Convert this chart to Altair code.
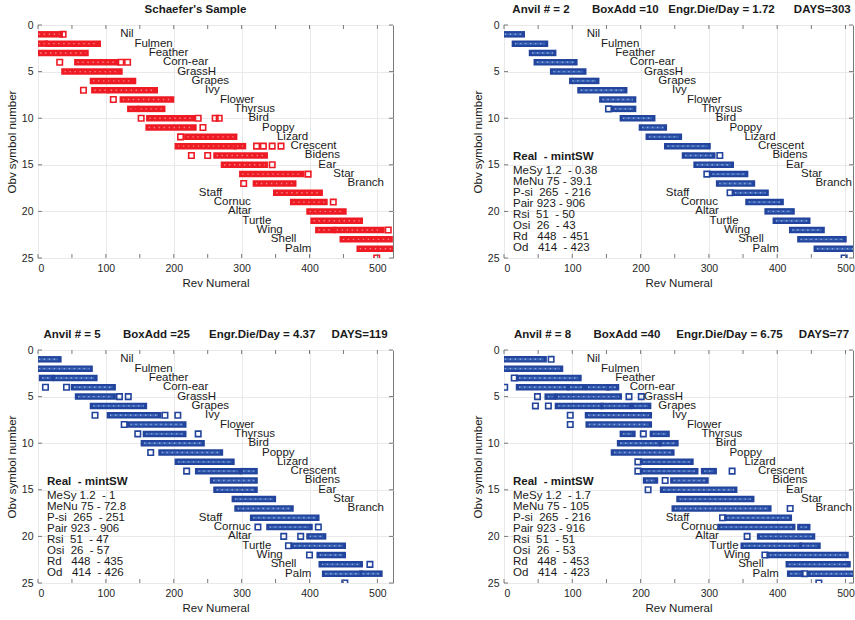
import altair as alt
import pandas as pd

FONT = "Liberation Sans"

SYMBOLS = ["Nil", "Fulmen", "Feather", "Corn-ear", "GrassH", "Grapes", "Ivy", "Flower",
           "Thyrsus", "Bird", "Poppy", "Lizard", "Crescent", "Bidens", "Ear", "Star",
           "Branch", "Staff", "Cornuc", "Altar", "Turtle", "Wing", "Shell", "Palm"]
SYMBOL_X = [121, 142, 163, 184, 205, 226, 246, 268, 289, 310, 330, 352, 372, 393, 413,
            435, 456, 237, 259, 280, 301, 322, 343, 364]
SYMBOL_ROW = list(range(1, 25))

XTICKS = [0, 50, 100, 150, 200, 250, 300, 350, 400, 450, 500]
YTICKS = [0, 5, 10, 15, 20, 25]

# (row, first rev, last rev) -- single points have first == last
SCHAEFER = [
    (1, 1, 32), (1, 37, 37),
    (2, 1, 10), (2, 15, 88),
    (3, 3, 70),
    (4, 32, 32), (4, 58, 115), (4, 122, 122), (4, 132, 132),
    (5, 39, 120),
    (6, 81, 140),
    (7, 67, 67), (7, 83, 100), (7, 107, 172),
    (8, 111, 111), (8, 125, 196),
    (9, 136, 144), (9, 151, 183),
    (10, 152, 152), (10, 164, 227), (10, 236, 236), (10, 261, 261), (10, 267, 267),
    (11, 163, 229), (11, 243, 243),
    (12, 210, 210), (12, 220, 289),
    (13, 206, 288), (13, 293, 302), (13, 322, 322), (13, 332, 332), (13, 345, 345), (13, 358, 358),
    (14, 226, 226), (14, 250, 250), (14, 263, 334),
    (15, 274, 334), (15, 345, 345),
    (16, 301, 388), (16, 398, 398),
    (17, 303, 303), (17, 321, 376),
    (18, 351, 415),
    (19, 376, 422), (19, 435, 435),
    (20, 400, 450),
    (21, 406, 474),
    (22, 413, 434), (22, 440, 506), (22, 516, 516),
    (23, 449, 518),
    (24, 474, 523),
    (25, 499, 499),
]

ANVIL2 = [
    (1, 1, 26), (2, 16, 60), (3, 41, 72), (4, 48, 103), (5, 72, 116), (6, 100, 135),
    (7, 112, 176), (8, 144, 189), (9, 153, 153), (9, 162, 189), (10, 174, 217),
    (11, 202, 234), (12, 212, 256), (13, 239, 298), (14, 265, 305), (14, 316, 316),
    (15, 282, 332), (16, 297, 297), (16, 305, 353), (17, 315, 363), (18, 331, 331),
    (18, 338, 383), (19, 358, 405), (20, 386, 421), (21, 398, 444), (22, 422, 465),
    (23, 434, 497), (24, 458, 515), (25, 498, 498),
]

ANVIL5 = [
    (1, 1, 30), (2, 1, 76), (3, 6, 19), (3, 26, 83),
    (4, 11, 11), (4, 42, 42), (4, 53, 110),
    (5, 59, 110), (5, 120, 120), (5, 133, 133),
    (6, 81, 156),
    (7, 84, 84), (7, 106, 177), (7, 187, 187), (7, 206, 206),
    (8, 127, 127), (8, 136, 214),
    (9, 147, 147), (9, 159, 214), (9, 236, 236),
    (10, 156, 241),
    (11, 166, 166), (11, 182, 268),
    (12, 206, 285),
    (13, 219, 219), (13, 236, 295), (13, 302, 319),
    (14, 258, 319), (15, 263, 319), (16, 290, 346), (17, 294, 372), (18, 317, 410),
    (19, 324, 324), (19, 341, 400), (19, 413, 413),
    (20, 362, 362), (20, 387, 387), (20, 400, 420),
    (21, 369, 369), (21, 377, 449),
    (22, 400, 400), (22, 415, 449),
    (23, 418, 474), (23, 489, 489),
    (24, 423, 474), (24, 478, 503),
    (25, 452, 452),
]

ANVIL8 = [
    (1, 1, 58), (1, 69, 69),
    (2, 1, 82),
    (3, 15, 15), (3, 22, 109),
    (4, 1, 1), (4, 22, 91), (4, 97, 114), (4, 123, 151), (4, 154, 164),
    (5, 49, 49), (5, 64, 72), (5, 79, 168), (5, 183, 183), (5, 201, 201),
    (6, 46, 46), (6, 65, 65), (6, 79, 141), (6, 146, 183), (6, 191, 211),
    (7, 97, 97), (7, 123, 212),
    (8, 97, 97), (8, 124, 212),
    (9, 174, 188), (9, 204, 204), (9, 218, 238),
    (10, 170, 226), (10, 232, 251),
    (11, 161, 245),
    (12, 196, 196), (12, 204, 273),
    (13, 196, 196), (13, 204, 280), (13, 293, 307), (13, 334, 334),
    (14, 208, 221), (14, 236, 236), (14, 248, 295),
    (15, 211, 211), (15, 233, 337),
    (16, 257, 362),
    (17, 250, 387), (17, 419, 419),
    (18, 320, 320), (18, 327, 417),
    (19, 317, 422), (19, 434, 444),
    (20, 356, 356), (20, 375, 451),
    (21, 351, 432), (21, 437, 459),
    (22, 382, 382), (22, 389, 500),
    (23, 417, 503),
    (24, 419, 434), (24, 440, 440), (24, 449, 518),
    (25, 461, 461),
]

TITLES = [
    "Schaefer's Sample",
    ["Anvil # = 2", "BoxAdd =10", "Engr.Die/Day = 1.72", "DAYS=303"],
    ["Anvil # = 5", "BoxAdd =25", "Engr.Die/Day = 4.37", "DAYS=119"],
    ["Anvil # = 8", "BoxAdd =40", "Engr.Die/Day = 6.75", "DAYS=77"],
]
TITLE_GAPS = [None, [7, 3, 6], [7, 6, 5], [7, 5, 5]]

LEGEND_HEAD = "Real  - mintSW"
LEGEND2 = ["MeSy 1.2  - 0.38", "MeNu 75 - 39.1", "P-si  265  - 216", "Pair 923 - 906",
           "Rsi  51  - 50", "Osi  26  - 43", "Rd   448  - 451", "Od   414  - 423"]
LEGEND5 = ["MeSy 1.2  - 1", "MeNu 75 - 72.8", "P-si  265  - 251", "Pair 923 - 906",
           "Rsi  51  - 47", "Osi  26  - 57", "Rd   448  - 435", "Od   414  - 426"]
LEGEND8 = ["MeSy 1.2  - 1.7", "MeNu 75 - 105", "P-si  265  - 216", "Pair 923 - 916",
           "Rsi  51  - 51", "Osi  26  - 53", "Rd   448  - 453", "Od   414  - 423"]

RED = "#ee1b24"
RED_IN = "#ee1b24"
BLUE = "#22449c"
BLUE_IN = "#3762b6"
FRAME = "#7a7a7a"
NB = "\u00a0"


def nb(s):
    return s.replace(" ", NB)


sym_df = pd.DataFrame({"x": SYMBOL_X, "row": SYMBOL_ROW, "name": SYMBOLS})
xt_df = pd.DataFrame({"x": XTICKS})
yt_df = pd.DataFrame({"row": YTICKS})


def panel(runs, title, gaps, color, inner, xmax, width, legend=None, dx=0):
    df = pd.DataFrame(runs, columns=["row", "x", "x1"])
    run_df = df[df.x1 > df.x]
    pt_df = df[df.x1 == df.x]
    xenc = alt.X("x:Q",
                 scale=alt.Scale(domain=[0, xmax], nice=False, zero=False),
                 axis=alt.Axis(values=XTICKS, title="Rev Numeral", format="d"))
    yenc = alt.Y("row:Q",
                 scale=alt.Scale(domain=[0, 25], reverse=True, nice=False, zero=False),
                 axis=alt.Axis(values=YTICKS, title="Obv symbol number", format="d"))
    bars = alt.Chart(run_df).mark_rule(
        strokeWidth=6.5, strokeCap="square", color=color, clip=True
    ).encode(x=xenc, x2="x1:Q", y=yenc)
    bars_in = alt.Chart(run_df).mark_rule(
        strokeWidth=2.4, strokeCap="butt", color=inner, clip=True
    ).encode(x="x:Q", x2="x1:Q", y="row:Q")
    specks = alt.Chart(run_df).mark_rule(
        strokeWidth=1.4, strokeCap="butt", color="white", opacity=0.45,
        strokeDash=[1.4, 3.6], clip=True
    ).encode(x="x:Q", x2="x1:Q", y="row:Q")
    dots = alt.Chart(pt_df).mark_square(
        filled=False, size=30, strokeWidth=1.6, color=color, opacity=1, clip=True
    ).encode(x="x:Q", y="row:Q")
    labels = alt.Chart(sym_df).mark_text(
        align="left", baseline="middle", fontSize=11.5, font=FONT, color="#1a1a1a", clip=True
    ).encode(x="x:Q", y="row:Q", text="name:N")
    tk = dict(color=FRAME, thickness=1, size=4, opacity=1)
    xt_top = alt.Chart(xt_df).mark_tick(**tk).encode(x="x:Q", y=alt.value(2))
    xt_bot = alt.Chart(xt_df).mark_tick(**tk).encode(x="x:Q", y=alt.value(231))
    yt_l = alt.Chart(yt_df).mark_tick(**tk).encode(y="row:Q", x=alt.value(2))
    yt_r = alt.Chart(yt_df).mark_tick(**tk).encode(y="row:Q", x=alt.value(width - 2))
    layers = [bars, bars_in, specks, dots, labels, xt_top, xt_bot, yt_l, yt_r]
    if legend is not None:
        dummy = pd.DataFrame({"k": [0]})
        head = alt.Chart(dummy).mark_text(
            text=nb(LEGEND_HEAD), align="left", baseline="top", fontSize=11.5,
            fontWeight="bold", font=FONT, color="#1a1a1a"
        ).encode(x=alt.value(9), y=alt.value(125.5))
        body = alt.Chart(dummy).mark_text(
            text=[nb(s) for s in legend], align="left", baseline="top", fontSize=11.5,
            lineHeight=10.96, font=FONT, color="#1a1a1a"
        ).encode(x=alt.value(9), y=alt.value(140))
        layers += [head, body]
    if gaps is None:
        ttl = title
    else:
        ttl = title[0]
        for g, piece in zip(gaps, title[1:]):
            ttl += NB * g + piece
    return alt.layer(*layers).properties(
        width=width, height=233,
        title=alt.TitleParams(text=ttl, dx=dx, frame="group", offset=5)
    )


p1 = panel(SCHAEFER, TITLES[0], TITLE_GAPS[0], RED, RED_IN, 523, 355, dx=-20)
p2 = panel(ANVIL2, TITLES[1], TITLE_GAPS[1], BLUE, BLUE_IN, 511, 349, LEGEND2, dx=3)
p3 = panel(ANVIL5, TITLES[2], TITLE_GAPS[2], BLUE, BLUE_IN, 523, 355, LEGEND5, dx=0)
p4 = panel(ANVIL8, TITLES[3], TITLE_GAPS[3], BLUE, BLUE_IN, 511, 349, LEGEND8, dx=3)

chart = alt.concat(
    p1, p2, p3, p4, columns=2, spacing={"row": 92, "column": 111}, bounds="flush"
).properties(
    padding={"left": 5, "top": 3, "right": 0, "bottom": 0}
).configure_view(
    stroke=FRAME, strokeWidth=1
).configure_axis(
    labelFont=FONT, titleFont=FONT, labelFontSize=10.5, titleFontSize=11.5,
    titleFontWeight="normal", labelColor="#262626", titleColor="#1a1a1a",
    domain=False, ticks=False, grid=True, gridColor="#e9e9e9", labelPadding=5,
    titlePadding=4
).configure_title(
    font=FONT, fontSize=11.5, fontWeight="bold", color="#1a1a1a", anchor="middle"
)

chart.save("out.html", embed_options={"renderer": "svg", "actions": False})
